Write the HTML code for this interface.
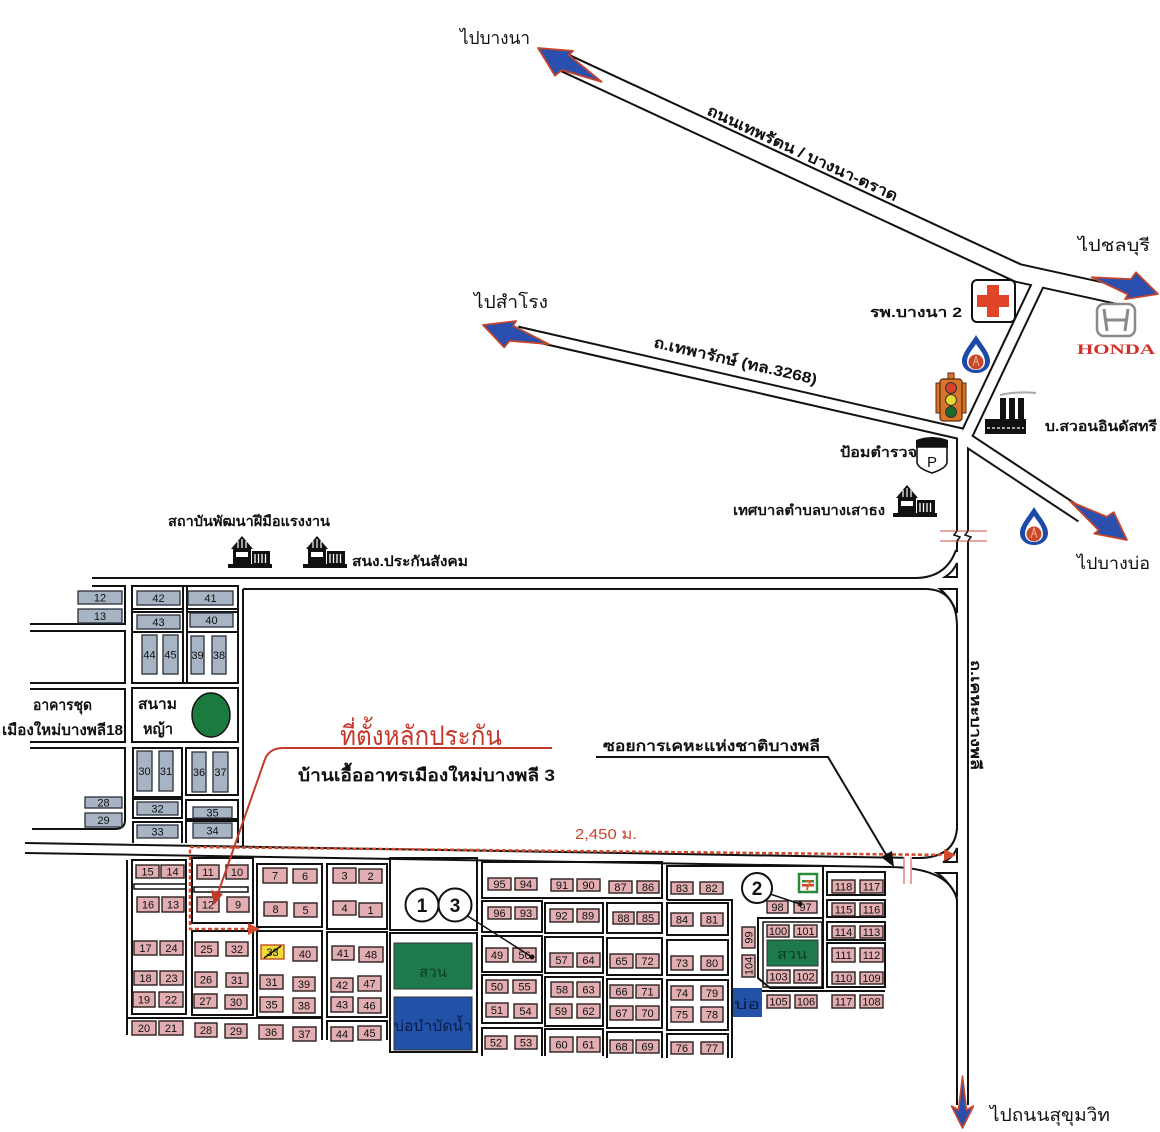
<!DOCTYPE html>
<html><head><meta charset="utf-8">
<style>
html,body{margin:0;padding:0;background:#fff;}
svg{display:block;}
.p{fill:#e2aeb1;stroke:#2a1f1f;stroke-width:1.4}
.g{fill:#a7b4c4;stroke:#2a2e38;stroke-width:1.3}
.n{font-family:"Liberation Sans",Arial,sans-serif;font-size:11px;text-anchor:middle;fill:#111}
.ln{fill:none;stroke:#111;stroke-width:2}
.t{font-family:"Liberation Sans","DejaVu Sans",sans-serif;fill:#111}
.b{font-weight:bold}
</style></head><body>
<svg width="1160" height="1132" viewBox="0 0 1160 1132" xmlns="http://www.w3.org/2000/svg">
<defs>
<path id="arr" d="M0 0 L-33 12 L-31 6.5 L-72 -4 L-31 -10 L-27 -18 Z" fill="#2b4fae" stroke="#c9452a" stroke-width="1.8" stroke-linejoin="round"/>
<path id="arrs" d="M0 0 L-22 -11 L-18 -4 L-52 0 L-18 4 L-22 11 Z" fill="#2b4fae" stroke="#c9452a" stroke-width="1.6" stroke-linejoin="round"/>
<g id="bld">
<path d="M3 14 L14 1 L25 14 Z" fill="#111"/>
<rect x="5" y="13" width="18" height="16" fill="#111"/>
<path d="M10 6 V13 M14 4 V13 M18 6 V13" stroke="#fff" stroke-width="1.2"/>
<rect x="8" y="17" width="12" height="5" fill="#fff"/>
<rect x="24" y="16" width="18" height="13" fill="#111"/>
<path d="M27 19 V28 M30.5 19 V28 M34 19 V28 M37.5 19 V28" stroke="#fff" stroke-width="1.3"/>
<rect x="0" y="29" width="44" height="4" fill="#111"/>
</g>
<g id="ptt">
<path d="M14 0 C20 10 28 18 28 26 C28 33 22 38 14 38 C6 38 0 33 0 26 C0 18 8 10 14 0 Z" fill="#1c4aa6"/>
<path d="M14 9 C18 15 23 20 23 27 C23 32 19 35 14 35 C9 35 5 32 5 27 C5 20 10 15 14 9 Z" fill="#fff"/>
<circle cx="14" cy="27" r="7.5" fill="#c9482a"/>
<path d="M14 21 L11 31 M14 21 L17 31 M12 27 H16" stroke="#f3b08a" stroke-width="1"/>
</g>
</defs>

<!-- main roads: black then white -->
<g fill="none" stroke-linejoin="round">
<g stroke="#111">
<path d="M565 63 L1018 273 L1118 295" stroke-width="20"/>
<path d="M1040 280 L966 436" stroke-width="14"/>
<path d="M517 332 L962 434" stroke-width="13"/>
<path d="M964 438 L1082 516" stroke-width="15"/>
<path d="M962.5 432 L962.5 1105" stroke-width="13"/>
</g>
<g stroke="#fff">
<path d="M565 63 L1018 273 L1118 295" stroke-width="16"/>
<path d="M1040 280 L966 436" stroke-width="10"/>
<path d="M517 332 L962 434" stroke-width="9"/>
<path d="M964 438 L1082 516" stroke-width="11"/>
<path d="M962.5 432 L962.5 1106" stroke-width="9"/>
</g>
</g>
<!-- gaps in V left line -->
<rect x="954" y="552" width="5" height="73" fill="#fff"/>
<rect x="954" y="830" width="5" height="68" fill="#fff"/>

<!-- top horizontal road & loop -->
<path class="ln" d="M92 578 H915 Q946 578 956 550"/>
<path class="ln" d="M945 577 L957 577 L957 563 Q953 572 945 577 Z"/>
<path class="ln" d="M243 589 H925 Q957 589 957 627"/>
<path class="ln" d="M940 589 L957 589 L957 613 Q950 597 940 589 Z"/>
<path class="ln" d="M243 589 V846"/>
<!-- bottom road -->
<path class="ln" d="M25 843 L915 858 Q955 859 957 828"/>
<path class="ln" d="M943 862 L957 862 L957 848 Q953 858 943 862 Z"/>
<path class="ln" d="M25 853 L890 867 Q950 868 957 900"/>
<path class="ln" d="M937 873 L957 873 L957 897 Q948 880 937 873 Z"/>

<!-- break marks -->
<rect x="954" y="531" width="17" height="10" fill="#fff"/>
<path d="M940 531 H987 M940 541 H987" stroke="#d8706a" stroke-width="1.3"/>
<path d="M957 531 L954 535 L960 537 L957 541 M968 531 L965 535 L971 537 L968 541" fill="none" stroke="#111" stroke-width="1.5"/>
<rect x="904" y="856" width="8" height="14" fill="#fff"/>
<path d="M904 857 V884 M911 857 V884" stroke="#d8706a" stroke-width="1.3"/>

<!-- upper-left lanes -->
<path class="ln" d="M92 586 H125 V624 H30"/>
<path class="ln" d="M30 631 H125 V683 H30"/>
<path class="ln" d="M30 689 H125 V742 H30"/>
<path class="ln" d="M30 748 H125 V820 Q125 829 115 829 H32"/>
<!-- upper-left blocks -->
<rect class="ln" x="132" y="586" width="106" height="97"/>
<path class="ln" d="M183 586 V683 M187 586 V683 M132 609 H183 M187 609 H238 M132 612 H183 M187 612 H238 M132 632 H183 M187 632 H238"/>
<rect class="ln" x="132" y="688" width="106" height="54"/>
<rect class="ln" x="133" y="748" width="49" height="49"/>
<rect class="ln" x="186" y="748" width="52" height="47"/>
<rect class="ln" x="133" y="799" width="49" height="19"/>
<rect class="ln" x="186" y="800" width="52" height="19"/>
<path class="ln" d="M133 843 V822 H182 V843 M186 843 V821 H238 V843"/>

<rect class="g" x="78" y="591" width="44" height="13"/><text class="n" x="100" y="601.5">12</text>
<rect class="g" x="78" y="609" width="44" height="14"/><text class="n" x="100" y="620">13</text>
<rect class="g" x="137" y="591" width="43" height="14"/><text class="n" x="158.5" y="602">42</text>
<rect class="g" x="188" y="591" width="45" height="14"/><text class="n" x="210.5" y="602">41</text>
<rect class="g" x="137" y="615" width="43" height="14"/><text class="n" x="158.5" y="626">43</text>
<rect class="g" x="190" y="613" width="43" height="14"/><text class="n" x="211.5" y="624">40</text>
<rect class="g" x="142" y="635" width="15" height="39"/><text class="n" x="149.5" y="658.5">44</text>
<rect class="g" x="163" y="635" width="15" height="39"/><text class="n" x="170.5" y="658.5">45</text>
<rect class="g" x="191" y="636" width="13" height="38"/><text class="n" x="197.5" y="659">39</text>
<rect class="g" x="212" y="636" width="14" height="38"/><text class="n" x="219" y="659">38</text>
<rect class="g" x="137" y="751" width="15" height="40"/><text class="n" x="144.5" y="775">30</text>
<rect class="g" x="159" y="751" width="14" height="40"/><text class="n" x="166" y="775">31</text>
<rect class="g" x="192" y="752" width="14" height="40"/><text class="n" x="199" y="776">36</text>
<rect class="g" x="213" y="752" width="15" height="40"/><text class="n" x="220.5" y="776">37</text>
<rect class="g" x="85" y="797" width="37" height="11"/><text class="n" x="103.5" y="806.5">28</text>
<rect class="g" x="85" y="813" width="37" height="14"/><text class="n" x="103.5" y="824">29</text>
<rect class="g" x="137" y="802" width="41" height="13"/><text class="n" x="157.5" y="812.5">32</text>
<rect class="g" x="193" y="807" width="39" height="11"/><text class="n" x="212.5" y="816.5">35</text>
<rect class="g" x="137" y="825" width="41" height="13"/><text class="n" x="157.5" y="835.5">33</text>
<rect class="g" x="193" y="823" width="39" height="15"/><text class="n" x="212.5" y="834.5">34</text>

<ellipse cx="211" cy="715" rx="19" ry="22" fill="#1b7a3e" stroke="#111" stroke-width="1.5"/>
<text class="t b" x="138" y="709" font-size="15" textLength="39" lengthAdjust="spacingAndGlyphs">สนาม</text>
<text class="t b" x="143" y="734" font-size="15" textLength="30" lengthAdjust="spacingAndGlyphs">หญ้า</text>
<text class="t b" x="33" y="710" font-size="15" textLength="59" lengthAdjust="spacingAndGlyphs">อาคารชุด</text>
<text class="t b" x="2" y="735" font-size="15" textLength="121" lengthAdjust="spacingAndGlyphs">เมืองใหม่บางพลี18</text>

<!-- lower-left block outlines -->
<path class="ln" d="M127 860 V1035"/>
<rect class="ln" x="132" y="860" width="54" height="154"/>
<rect x="134" y="884" width="52" height="5" fill="none" stroke="#111" stroke-width="1.5"/>
<rect class="ln" x="192" y="858" width="61" height="65"/>
<rect x="194" y="887" width="54" height="5" fill="none" stroke="#111" stroke-width="1.5"/>
<rect class="ln" x="192" y="931" width="61" height="84"/>
<rect class="ln" x="257" y="864" width="65" height="63"/>
<rect class="ln" x="257" y="931" width="65" height="86"/>
<rect class="ln" x="327" y="864" width="60" height="65"/>
<rect class="ln" x="327" y="932" width="60" height="85"/>
<path class="ln" d="M128 1018 H322 V1040 M327 1040 V1021 H387 V1040"/>

<!-- middle outlines -->
<rect class="ln" x="390" y="858" width="87" height="72"/>
<rect class="ln" x="390" y="933" width="87" height="119"/>
<rect x="394" y="943" width="78" height="46" fill="#1e7a4c" stroke="#333" stroke-width="1"/>
<rect x="394" y="997" width="78" height="53" fill="#2251a8" stroke="#333" stroke-width="1"/>
<text class="t" x="419" y="977" font-size="15" style="fill:#0d3d22" textLength="28" lengthAdjust="spacingAndGlyphs">สวน</text>
<text class="t" x="394" y="1031" font-size="15" style="fill:#0d1d4a" textLength="78" lengthAdjust="spacingAndGlyphs">บ่อบำบัดน้ำ</text>

<rect class="ln" x="482" y="862" width="180" height="36"/>
<path class="ln" d="M667 900 V866 H823 V917 M667 900 H732 V1058"/>
<rect class="ln" x="482" y="901" width="60" height="31"/>
<rect class="ln" x="545" y="903" width="58" height="30"/>
<rect class="ln" x="607" y="903" width="55" height="30"/>
<rect class="ln" x="667" y="903" width="61" height="32"/>
<rect class="ln" x="482" y="936" width="60" height="36"/>
<rect class="ln" x="545" y="937" width="58" height="36"/>
<rect class="ln" x="607" y="938" width="55" height="37"/>
<rect class="ln" x="667" y="940" width="61" height="35"/>
<rect class="ln" x="482" y="975" width="60" height="48"/>
<rect class="ln" x="545" y="977" width="58" height="49"/>
<rect class="ln" x="607" y="979" width="55" height="49"/>
<rect class="ln" x="667" y="980" width="61" height="50"/>
<path class="ln" d="M482 1056 V1028 H542 V1056 M545 1056 V1029 H603 V1056 M607 1058 V1032 H662 V1058 M667 1058 V1034 H728 V1058"/>

<!-- right outlines -->
<path class="ln" d="M758 918 H823 V988 H770 L758 978 Z"/>
<rect x="763" y="922" width="59" height="65" fill="none" stroke="#111" stroke-width="1.5"/>
<rect x="767" y="940" width="51" height="26" fill="#1e7a4c" stroke="#333" stroke-width="1"/>
<text class="t" x="777" y="959" font-size="14" style="fill:#0d3d22" textLength="30" lengthAdjust="spacingAndGlyphs">สวน</text>
<path class="ln" d="M758 991 H885"/>
<rect class="ln" x="827" y="872" width="58" height="23"/>
<rect class="ln" x="827" y="900" width="58" height="17"/>
<rect class="ln" x="827" y="922" width="58" height="18"/>
<rect class="ln" x="827" y="943" width="58" height="44"/>
<rect x="733" y="988" width="29" height="29" fill="#2251a8"/>
<text class="t" x="734" y="1009" font-size="14" style="fill:#0d1d4a" textLength="26" lengthAdjust="spacingAndGlyphs">บ่อ</text>

<!-- lower-left lots -->
<rect class="p" x="136" y="865" width="23" height="13"/><text class="n" x="147.5" y="875.5">15</text>
<rect class="p" x="161" y="865" width="23" height="13"/><text class="n" x="172.5" y="875.5">14</text>
<rect class="p" x="197" y="865" width="22" height="14"/><text class="n" x="208" y="876">11</text>
<rect class="p" x="226" y="865" width="22" height="14"/><text class="n" x="237" y="876">10</text>
<rect class="p" x="263" y="868" width="24" height="15"/><text class="n" x="275" y="879.5">7</text>
<rect class="p" x="293" y="869" width="24" height="14"/><text class="n" x="305" y="880">6</text>
<rect class="p" x="333" y="868" width="23" height="15"/><text class="n" x="344.5" y="879.5">3</text>
<rect class="p" x="359" y="869" width="23" height="14"/><text class="n" x="370.5" y="880">2</text>
<rect class="p" x="137" y="897" width="22" height="15"/><text class="n" x="148" y="908.5">16</text>
<rect class="p" x="162" y="897" width="22" height="15"/><text class="n" x="173" y="908.5">13</text>
<rect class="p" x="197" y="897" width="22" height="15"/><text class="n" x="208" y="908.5">12</text>
<rect class="p" x="227" y="897" width="22" height="15"/><text class="n" x="238" y="908.5">9</text>
<rect class="p" x="264" y="902" width="23" height="14"/><text class="n" x="275.5" y="913">8</text>
<rect class="p" x="294" y="903" width="23" height="14"/><text class="n" x="305.5" y="914">5</text>
<rect class="p" x="333" y="901" width="23" height="14"/><text class="n" x="344.5" y="912">4</text>
<rect class="p" x="359" y="903" width="23" height="14"/><text class="n" x="370.5" y="914">1</text>
<rect class="p" x="134" y="941" width="23" height="14"/><text class="n" x="145.5" y="952">17</text>
<rect class="p" x="160" y="941" width="23" height="14"/><text class="n" x="171.5" y="952">24</text>
<rect class="p" x="195" y="942" width="23" height="14"/><text class="n" x="206.5" y="953">25</text>
<rect class="p" x="226" y="942" width="22" height="14"/><text class="n" x="237" y="953">32</text>
<rect x="261" y="945" width="23" height="14" fill="#f2dc3c" stroke="#c05020" stroke-width="1.4"/><text class="n" x="272.5" y="956">33</text>
<path d="M264 958 L281 946" stroke="#111" stroke-width="1.5"/>
<rect class="p" x="293" y="947" width="24" height="14"/><text class="n" x="305" y="958">40</text>
<rect class="p" x="332" y="946" width="22" height="14"/><text class="n" x="343" y="957">41</text>
<rect class="p" x="359" y="947" width="24" height="15"/><text class="n" x="371" y="958.5">48</text>
<rect class="p" x="134" y="971" width="23" height="14"/><text class="n" x="145.5" y="982">18</text>
<rect class="p" x="160" y="971" width="23" height="14"/><text class="n" x="171.5" y="982">23</text>
<rect class="p" x="195" y="972" width="22" height="15"/><text class="n" x="206" y="983.5">26</text>
<rect class="p" x="226" y="973" width="22" height="14"/><text class="n" x="237" y="984">31</text>
<rect class="p" x="260" y="975" width="23" height="14"/><text class="n" x="271.5" y="986">31</text>
<rect class="p" x="293" y="977" width="22" height="14"/><text class="n" x="304" y="988">39</text>
<rect class="p" x="331" y="978" width="22" height="14"/><text class="n" x="342" y="989">42</text>
<rect class="p" x="358" y="976" width="23" height="15"/><text class="n" x="369.5" y="987.5">47</text>
<rect class="p" x="133" y="992" width="22" height="15"/><text class="n" x="144" y="1003.5">19</text>
<rect class="p" x="159" y="992" width="24" height="15"/><text class="n" x="171" y="1003.5">22</text>
<rect class="p" x="194" y="994" width="23" height="14"/><text class="n" x="205.5" y="1005">27</text>
<rect class="p" x="225" y="995" width="22" height="14"/><text class="n" x="236" y="1006">30</text>
<rect class="p" x="260" y="997" width="23" height="15"/><text class="n" x="271.5" y="1008.5">35</text>
<rect class="p" x="293" y="998" width="22" height="15"/><text class="n" x="304" y="1009.5">38</text>
<rect class="p" x="331" y="997" width="22" height="15"/><text class="n" x="342" y="1008.5">43</text>
<rect class="p" x="358" y="998" width="23" height="15"/><text class="n" x="369.5" y="1009.5">46</text>
<rect class="p" x="132" y="1021" width="24" height="14"/><text class="n" x="144" y="1032">20</text>
<rect class="p" x="159" y="1021" width="24" height="14"/><text class="n" x="171" y="1032">21</text>
<rect class="p" x="195" y="1023" width="22" height="14"/><text class="n" x="206" y="1034">28</text>
<rect class="p" x="225" y="1024" width="22" height="14"/><text class="n" x="236" y="1035">29</text>
<rect class="p" x="259" y="1025" width="24" height="14"/><text class="n" x="271" y="1036">36</text>
<rect class="p" x="293" y="1027" width="23" height="14"/><text class="n" x="304.5" y="1038">37</text>
<rect class="p" x="331" y="1027" width="22" height="14"/><text class="n" x="342" y="1038">44</text>
<rect class="p" x="358" y="1026" width="23" height="14"/><text class="n" x="369.5" y="1037">45</text>

<!-- middle lots -->
<rect class="p" x="488" y="878" width="23" height="12"/><text class="n" x="499.5" y="888">95</text>
<rect class="p" x="515" y="878" width="22" height="12"/><text class="n" x="526" y="888">94</text>
<rect class="p" x="551" y="879" width="22" height="12"/><text class="n" x="562" y="889">91</text>
<rect class="p" x="577" y="879" width="23" height="12"/><text class="n" x="588.5" y="889">90</text>
<rect class="p" x="609" y="881" width="23" height="12"/><text class="n" x="620.5" y="891">87</text>
<rect class="p" x="637" y="881" width="22" height="12"/><text class="n" x="648" y="891">86</text>
<rect class="p" x="671" y="882" width="22" height="12"/><text class="n" x="682" y="892">83</text>
<rect class="p" x="700" y="882" width="23" height="12"/><text class="n" x="711.5" y="892">82</text>
<rect class="p" x="488" y="907" width="23" height="12"/><text class="n" x="499.5" y="917">96</text>
<rect class="p" x="515" y="907" width="22" height="12"/><text class="n" x="526" y="917">93</text>
<rect class="p" x="550" y="909" width="23" height="13"/><text class="n" x="561.5" y="919.5">92</text>
<rect class="p" x="577" y="909" width="22" height="13"/><text class="n" x="588" y="919.5">89</text>
<rect class="p" x="613" y="912" width="21" height="12"/><text class="n" x="623.5" y="922">88</text>
<rect class="p" x="637" y="912" width="22" height="12"/><text class="n" x="648" y="922">85</text>
<rect class="p" x="671" y="913" width="22" height="13"/><text class="n" x="682" y="923.5">84</text>
<rect class="p" x="701" y="913" width="22" height="13"/><text class="n" x="712" y="923.5">81</text>
<rect class="p" x="486" y="948" width="22" height="14"/><text class="n" x="497" y="959">49</text>
<rect class="p" x="513" y="948" width="23" height="14"/><text class="n" x="524.5" y="959">56</text>
<rect class="p" x="550" y="953" width="23" height="14"/><text class="n" x="561.5" y="964">57</text>
<rect class="p" x="577" y="953" width="23" height="14"/><text class="n" x="588.5" y="964">64</text>
<rect class="p" x="610" y="954" width="23" height="14"/><text class="n" x="621.5" y="965">65</text>
<rect class="p" x="636" y="954" width="23" height="14"/><text class="n" x="647.5" y="965">72</text>
<rect class="p" x="671" y="956" width="22" height="14"/><text class="n" x="682" y="967">73</text>
<rect class="p" x="701" y="956" width="22" height="14"/><text class="n" x="712" y="967">80</text>
<rect class="p" x="486" y="980" width="22" height="13"/><text class="n" x="497" y="990.5">50</text>
<rect class="p" x="513" y="980" width="23" height="13"/><text class="n" x="524.5" y="990.5">55</text>
<rect class="p" x="486" y="1003" width="22" height="14"/><text class="n" x="497" y="1014">51</text>
<rect class="p" x="514" y="1004" width="23" height="14"/><text class="n" x="525.5" y="1015">54</text>
<rect class="p" x="551" y="982" width="22" height="15"/><text class="n" x="562" y="993.5">58</text>
<rect class="p" x="577" y="982" width="23" height="15"/><text class="n" x="588.5" y="993.5">63</text>
<rect class="p" x="550" y="1004" width="22" height="14"/><text class="n" x="561" y="1015">59</text>
<rect class="p" x="577" y="1004" width="23" height="14"/><text class="n" x="588.5" y="1015">62</text>
<rect class="p" x="610" y="985" width="23" height="13"/><text class="n" x="621.5" y="995.5">66</text>
<rect class="p" x="636" y="985" width="23" height="13"/><text class="n" x="647.5" y="995.5">71</text>
<rect class="p" x="610" y="1006" width="23" height="14"/><text class="n" x="621.5" y="1017">67</text>
<rect class="p" x="636" y="1006" width="23" height="14"/><text class="n" x="647.5" y="1017">70</text>
<rect class="p" x="671" y="986" width="22" height="14"/><text class="n" x="682" y="997">74</text>
<rect class="p" x="701" y="986" width="22" height="14"/><text class="n" x="712" y="997">79</text>
<rect class="p" x="671" y="1007" width="22" height="15"/><text class="n" x="682" y="1018.5">75</text>
<rect class="p" x="701" y="1007" width="22" height="15"/><text class="n" x="712" y="1018.5">78</text>
<rect class="p" x="485" y="1036" width="22" height="13"/><text class="n" x="496" y="1046.5">52</text>
<rect class="p" x="515" y="1036" width="22" height="13"/><text class="n" x="526" y="1046.5">53</text>
<rect class="p" x="550" y="1037" width="23" height="15"/><text class="n" x="561.5" y="1048.5">60</text>
<rect class="p" x="577" y="1037" width="23" height="15"/><text class="n" x="588.5" y="1048.5">61</text>
<rect class="p" x="610" y="1040" width="23" height="13"/><text class="n" x="621.5" y="1050.5">68</text>
<rect class="p" x="636" y="1040" width="23" height="13"/><text class="n" x="647.5" y="1050.5">69</text>
<rect class="p" x="671" y="1042" width="22" height="12"/><text class="n" x="682" y="1052">76</text>
<rect class="p" x="701" y="1042" width="22" height="12"/><text class="n" x="712" y="1052">77</text>

<!-- right lots -->
<rect class="p" x="767" y="901" width="21" height="12"/><text class="n" x="777.5" y="911">98</text>
<rect class="p" x="794" y="901" width="23" height="12"/><text class="n" x="805.5" y="911">97</text>
<rect class="p" x="767" y="925" width="22" height="12"/><text class="n" x="778" y="935">100</text>
<rect class="p" x="794" y="925" width="23" height="12"/><text class="n" x="805.5" y="935">101</text>
<rect class="p" x="767" y="970" width="23" height="13"/><text class="n" x="778.5" y="980.5">103</text>
<rect class="p" x="794" y="970" width="23" height="13"/><text class="n" x="805.5" y="980.5">102</text>
<rect class="p" x="742" y="927" width="13" height="21"/><text class="n" transform="translate(752.5,937.5) rotate(-90)">99</text>
<rect class="p" x="742" y="955" width="13" height="22"/><text class="n" transform="translate(752.5,966) rotate(-90)">104</text>
<rect class="p" x="767" y="995" width="23" height="13"/><text class="n" x="778.5" y="1005.5">105</text>
<rect class="p" x="795" y="995" width="22" height="13"/><text class="n" x="806" y="1005.5">106</text>
<rect class="p" x="832" y="995" width="23" height="13"/><text class="n" x="843.5" y="1005.5">117</text>
<rect class="p" x="860" y="995" width="23" height="13"/><text class="n" x="871.5" y="1005.5">108</text>
<rect class="p" x="832" y="880" width="23" height="13"/><text class="n" x="843.5" y="890.5">118</text>
<rect class="p" x="860" y="880" width="23" height="13"/><text class="n" x="871.5" y="890.5">117</text>
<rect class="p" x="832" y="903" width="23" height="13"/><text class="n" x="843.5" y="913.5">115</text>
<rect class="p" x="860" y="903" width="23" height="13"/><text class="n" x="871.5" y="913.5">116</text>
<rect class="p" x="832" y="926" width="23" height="12"/><text class="n" x="843.5" y="936">114</text>
<rect class="p" x="860" y="926" width="23" height="12"/><text class="n" x="871.5" y="936">113</text>
<rect class="p" x="832" y="948" width="23" height="14"/><text class="n" x="843.5" y="959">111</text>
<rect class="p" x="860" y="948" width="23" height="14"/><text class="n" x="871.5" y="959">112</text>
<rect class="p" x="832" y="972" width="23" height="12"/><text class="n" x="843.5" y="982">110</text>
<rect class="p" x="860" y="972" width="23" height="12"/><text class="n" x="871.5" y="982">109</text>

<!-- circles -->
<path d="M466 915 L532 957" stroke="#111" stroke-width="1.5"/><circle cx="532" cy="957" r="2.5" fill="#111"/>
<path d="M770 894 L800 904" stroke="#111" stroke-width="1.5"/><circle cx="800" cy="904" r="2.5" fill="#111"/>
<circle cx="422" cy="905" r="16.5" fill="#fff" stroke="#111" stroke-width="2"/>
<circle cx="455" cy="905" r="16.5" fill="#fff" stroke="#111" stroke-width="2"/>
<circle cx="757" cy="888" r="15" fill="#fff" stroke="#111" stroke-width="2"/>
<text class="t b" x="422" y="912" font-size="19" text-anchor="middle">1</text>
<text class="t b" x="455" y="912" font-size="19" text-anchor="middle">3</text>
<text class="t b" x="757" y="895" font-size="19" text-anchor="middle">2</text>
<!-- 7-11 -->
<rect x="799" y="874" width="18" height="18" fill="#fff" stroke="#2a8a3a" stroke-width="2.5"/>
<rect x="802" y="880" width="12" height="2.5" fill="#2a8a3a"/>
<rect x="802" y="884" width="12" height="2.5" fill="#d6402a"/>
<text x="808" y="890" font-family="Liberation Sans" font-weight="bold" font-size="14" text-anchor="middle" fill="#e0602a">7</text>

<!-- red dotted route -->
<path d="M948 855 L190 847 L190 929 L250 929" fill="none" stroke="#d24a2c" stroke-width="2.5" stroke-dasharray="4 2.5"/>
<path d="M956 855 L944 849 L944 861 Z" fill="#d24a2c"/>
<path d="M260 929 L248 923 L248 935 Z" fill="#d24a2c"/>
<!-- red title leader -->
<path d="M552 748 H283 Q268 748 264 762 L217 896" fill="none" stroke="#c23b2a" stroke-width="2"/>
<path d="M214 905 L211 890 L223 894 Z" fill="#c23b2a"/>
<!-- black soi leader -->
<path d="M596 757 H828 L888 858" fill="none" stroke="#111" stroke-width="2"/>
<path d="M894 867 L881 857 L892 851 Z" fill="#111"/>

<!-- arrows -->
<use href="#arr" transform="translate(538,48) rotate(204.8)"/>
<use href="#arr" transform="translate(1158,294) rotate(11) scale(0.95)"/>
<use href="#arr" transform="translate(483,325) rotate(193) scale(0.95)"/>
<use href="#arr" transform="translate(1127,540) rotate(31) scale(0.95)"/>
<use href="#arrs" transform="translate(962.5,1128) rotate(90)"/>

<!-- icons -->
<rect x="972" y="280" width="43" height="42" rx="5" fill="#fff" stroke="#111" stroke-width="2"/>
<path d="M987 285 H999 V295 H1009 V307 H999 V317 H987 V307 H977 V295 H987 Z" fill="#e0452a"/>
<use href="#ptt" transform="translate(962,335)"/>
<use href="#ptt" transform="translate(1020,507)"/>
<!-- traffic light -->
<rect x="948" y="373" width="6" height="7" fill="#d9752a" stroke="#5a2a0a" stroke-width="1"/>
<rect x="936" y="383" width="5" height="30" fill="#d9752a" stroke="#5a2a0a" stroke-width="1"/>
<rect x="961" y="383" width="5" height="30" fill="#d9752a" stroke="#5a2a0a" stroke-width="1"/>
<rect x="940" y="379" width="22" height="42" rx="3" fill="#d9752a" stroke="#5a2a0a" stroke-width="1.2"/>
<circle cx="951" cy="388" r="5.5" fill="#d8402a" stroke="#333" stroke-width="1"/>
<circle cx="951" cy="400" r="5.5" fill="#e8d830" stroke="#333" stroke-width="1"/>
<circle cx="951" cy="412" r="5.5" fill="#1d6b2a" stroke="#333" stroke-width="1"/>
<!-- factory -->
<path d="M1000 395 Q1018 391 1036 393" stroke="#aaa" stroke-width="2" fill="none"/>
<rect x="1000" y="398" width="6" height="22" fill="#111"/>
<rect x="1009" y="398" width="6" height="22" fill="#111"/>
<rect x="1018" y="398" width="6" height="22" fill="#111"/>
<rect x="985" y="419" width="41" height="15" fill="#111"/>
<path d="M987 428 H1024" stroke="#fff" stroke-width="1.2" stroke-dasharray="3 2"/>
<!-- police P sign -->
<path d="M916 440 Q932 434 948 440 V448 H916 Z" fill="#111"/>
<path d="M917 447 H947 V462 Q947 468 932 473 Q917 468 917 462 Z" fill="#fff" stroke="#111" stroke-width="1.6"/>
<text x="932" y="467" font-family="Liberation Sans" font-size="15" text-anchor="middle" fill="#111">P</text>
<!-- buildings -->
<use href="#bld" transform="translate(893,484)"/>
<use href="#bld" transform="translate(228,535)"/>
<use href="#bld" transform="translate(303,535)"/>
<!-- honda -->
<rect x="1097" y="304" width="38" height="32" rx="7" fill="#fff" stroke="#8a8a8a" stroke-width="2.5"/>
<path d="M1104 309 L1107 331 M1128 309 L1125 331 M1106 320 H1126" stroke="#8a8a8a" stroke-width="3" fill="none"/>
<text x="1077" y="354" font-family="Liberation Serif" font-weight="bold" font-size="15" fill="#d2302a" textLength="78" lengthAdjust="spacingAndGlyphs">HONDA</text>

<!-- labels -->
<text class="t" x="460" y="44" font-size="18" textLength="70" lengthAdjust="spacingAndGlyphs">ไปบางนา</text>
<text class="t b" transform="translate(706,114) rotate(24.8)" font-size="15" textLength="208" lengthAdjust="spacingAndGlyphs">ถนนเทพรัตน / บางนา-ตราด</text>
<text class="t" x="1078" y="251" font-size="17" textLength="72" lengthAdjust="spacingAndGlyphs">ไปชลบุรี</text>
<text class="t" x="474" y="308" font-size="18" textLength="74" lengthAdjust="spacingAndGlyphs">ไปสำโรง</text>
<text class="t b" x="870" y="317" font-size="14" textLength="92" lengthAdjust="spacingAndGlyphs">รพ.บางนา 2</text>
<text class="t b" transform="translate(653,347) rotate(13)" font-size="15" textLength="167" lengthAdjust="spacingAndGlyphs">ถ.เทพารักษ์ (ทล.3268)</text>
<text class="t b" x="1045" y="431" font-size="14" textLength="112" lengthAdjust="spacingAndGlyphs">บ.สวอนอินดัสทรี</text>
<text class="t b" x="840" y="457" font-size="14" textLength="77" lengthAdjust="spacingAndGlyphs">ป้อมตำรวจ</text>
<text class="t b" x="733" y="515" font-size="14" textLength="152" lengthAdjust="spacingAndGlyphs">เทศบาลตำบลบางเสาธง</text>
<text class="t" x="1077" y="569" font-size="17" textLength="73" lengthAdjust="spacingAndGlyphs">ไปบางบ่อ</text>
<text class="t b" x="168" y="526" font-size="14" textLength="162" lengthAdjust="spacingAndGlyphs">สถาบันพัฒนาฝีมือแรงงาน</text>
<text class="t b" x="352" y="566" font-size="14" textLength="116" lengthAdjust="spacingAndGlyphs">สนง.ประกันสังคม</text>
<text class="t" x="340" y="745" font-size="27" style="fill:#c8362a" textLength="162" lengthAdjust="spacingAndGlyphs">ที่ตั้งหลักประกัน</text>
<text class="t b" x="298" y="781" font-size="17" textLength="257" lengthAdjust="spacingAndGlyphs">บ้านเอื้ออาทรเมืองใหม่บางพลี 3</text>
<text class="t b" x="603" y="751" font-size="15" textLength="217" lengthAdjust="spacingAndGlyphs">ซอยการเคหะแห่งชาติบางพลี</text>
<text class="t" x="575" y="839" font-size="15" style="fill:#c8442a" textLength="62" lengthAdjust="spacingAndGlyphs">2,450 ม.</text>
<text class="t b" transform="translate(971,660) rotate(90)" font-size="14" textLength="110" lengthAdjust="spacingAndGlyphs">ถ.เคหะบางพลี</text>
<text class="t" x="990" y="1121" font-size="18" textLength="120" lengthAdjust="spacingAndGlyphs">ไปถนนสุขุมวิท</text>
</svg>
</body></html>
